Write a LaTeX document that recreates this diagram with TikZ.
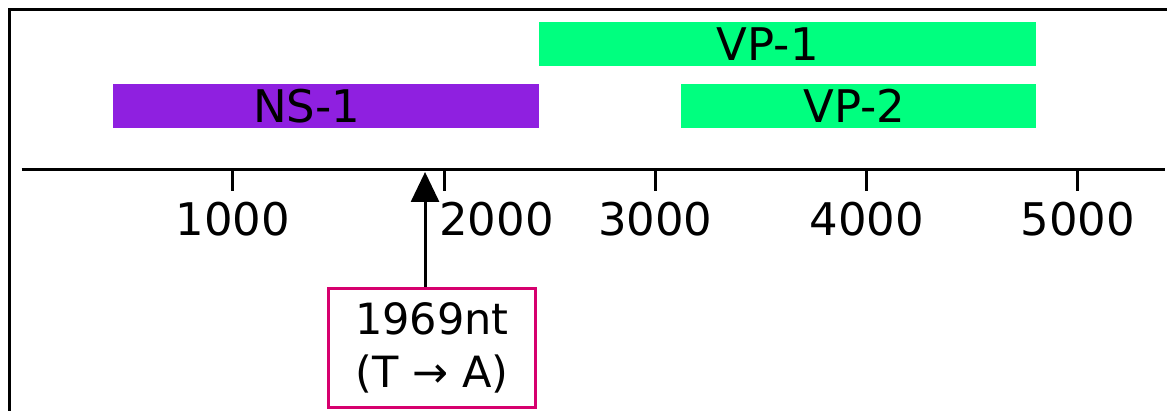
\documentclass[tikz,border=0pt]{standalone}
\usepackage{fontspec}
\setmainfont{DejaVu Sans}
\usetikzlibrary{positioning,arrows.meta}
\definecolor{nspurple}{RGB}{143,32,224}
\definecolor{vpgreen}{RGB}{0,255,127}
\definecolor{mutpink}{RGB}{214,0,110}
\tikzset{
  bartext/.style={inner sep=0pt, font=\fontsize{25.6}{30}\selectfont},
  ticklabel/.style={anchor=north, inner sep=0pt, font=\fontsize{25.6}{30}\selectfont},
  mutbox/.style={draw=mutpink, line width=0.06cm, minimum width=4.16cm, minimum height=2.4cm,
    align=center, inner sep=0pt, font=\fontsize{24.5}{30.1}\selectfont}
}

\begin{document}
\begin{tikzpicture}[x=0.02cm, y=-0.02cm, line width=0.06cm]
  \clip (0,0) rectangle (1167,411);
  % frame and axis
  \draw[line width=0.05cm] (9.5,430) -- (9.5,9.5) -- (1190,9.5);
  \draw (21.5,170) -- (1165,170);
  \begin{scope}[shift={(21.5,0)}, x=0.00423cm]
    % genes
    \fill[nspurple] (433,84) rectangle (2447,128);
    \fill[vpgreen] (2447,22) rectangle (4801,66);
    \fill[vpgreen] (3123,84) rectangle (4801,128);
    \node[bartext] (ns1) at (1350,106) {NS-1};
    \node[bartext] (vp1) at (3532,44) {VP-1};
    \node[bartext] (vp2) at (3941,106) {VP-2};
    % ticks
    \foreach \v in {1000,2000,...,5000}
      \draw (\v,170) -- (\v,191);
    \foreach \v in {1000,3000,4000,5000}
      \node[ticklabel] (t\v) at (\v,201) {\v};
    \node[ticklabel, anchor=north west] (t2000) at (1970,201) {2000};
    \coordinate (hit) at (1910,172);
  \end{scope}
  \node[mutbox] (mut) at (432,348) {1969nt\\(T → A)};
  \draw[-{Triangle[width=0.56cm,length=0.6cm]}] (mut.north -| hit) -- (hit);
\end{tikzpicture}
\end{document}
